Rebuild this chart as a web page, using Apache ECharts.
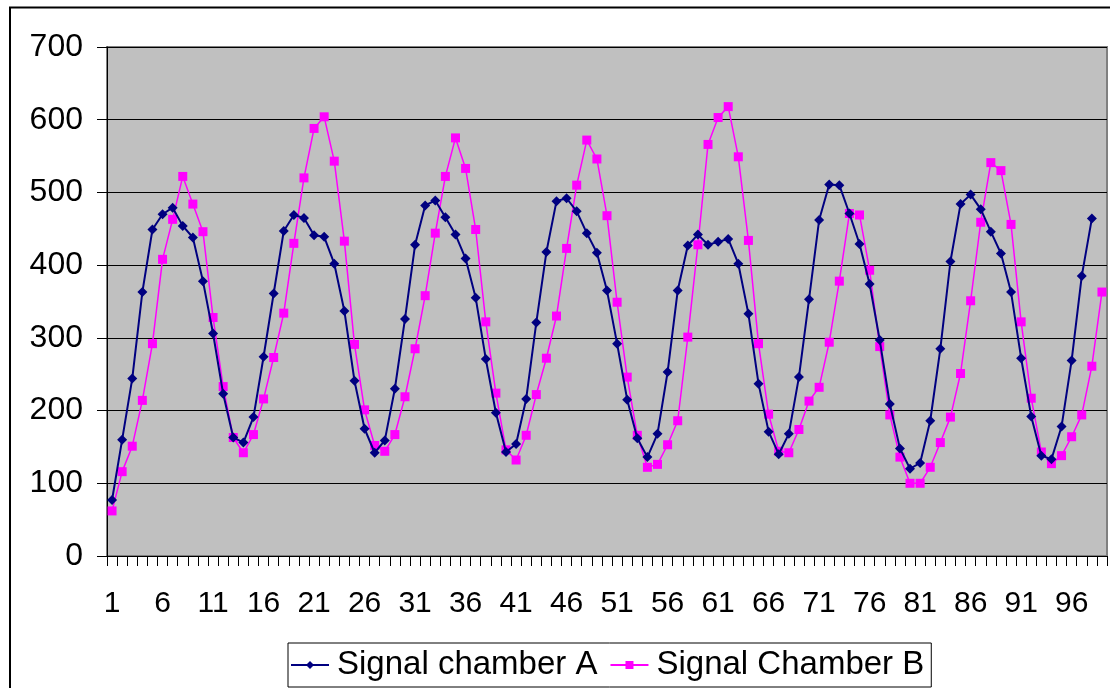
<!DOCTYPE html>
<html>
<head>
<meta charset="utf-8">
<title>Signal chambers</title>
<script src="https://cdn.jsdelivr.net/npm/echarts@6/dist/echarts.min.js"></script>
<style>
  html, body { margin: 0; padding: 0; background: #ffffff; }
  #chart { width: 1110px; height: 688px; }
</style>
</head>
<body>
<div id="chart"></div>
<script>
// Sample numbers 1..99 along the x axis
const categories = Array.from({ length: 99 }, (_, i) => String(i + 1));

// Y axis scale
const yMin = 0;
const yMax = 700;
const yStep = 100;

const seriesNames = ['Signal chamber A', 'Signal Chamber B'];

// Signal chamber A (no reading at sample 99)
const chamberA = [
  77, 160, 244, 363, 449, 470, 479, 454, 438, 378,
  306, 223, 163, 156, 191, 274, 361, 447, 469, 465,
  441, 439, 402, 337, 241, 175, 142, 159, 230, 326,
  428, 482, 489, 466, 442, 409, 355, 271, 197, 143,
  154, 216, 321, 418, 488, 492, 474, 444, 417, 365,
  292, 215, 162, 136, 168, 253, 365, 427, 442, 428,
  432, 436, 402, 333, 237, 171, 140, 168, 246, 353,
  462, 511, 510, 471, 429, 374, 297, 209, 148, 120,
  128, 186, 285, 405, 484, 497, 477, 446, 416, 363,
  272, 192, 138, 133, 178, 269, 385, 464, null
];

// Signal chamber B
const chamberB = [
  62, 116, 151, 214, 292, 408, 463, 522, 484, 446,
  328, 233, 163, 142, 167, 216, 273, 334, 430, 520,
  588, 604, 543, 433, 291, 201, 152, 144, 167, 219,
  285, 358, 444, 522, 575, 533, 449, 322, 224, 146,
  132, 166, 222, 272, 330, 423, 510, 572, 546, 468,
  349, 246, 166, 122, 126, 153, 186, 301, 428, 566,
  603, 618, 549, 434, 292, 195, 144, 142, 174, 213,
  232, 294, 378, 471, 469, 393, 288, 194, 136, 100,
  100, 122, 156, 191, 251, 351, 459, 541, 530, 456,
  322, 217, 143, 127, 138, 164, 194, 261, 363
];

const FONT = '"Liberation Sans", Arial, Helvetica, sans-serif';

const chart = echarts.init(document.getElementById('chart'), null, { renderer: 'canvas' });

chart.setOption({
  animation: false,
  backgroundColor: '#ffffff',
  textStyle: { fontFamily: FONT, color: '#000' },
  graphic: [
    {
      // outer frame of the chart area
      type: 'rect',
      silent: true,
      z: -10,
      shape: { x: 10, y: 7.5, width: 1200, height: 800 },
      style: { fill: 'none', stroke: '#000', lineWidth: 2 }
    }
  ],
  grid: {
    left: 107,
    right: 3,
    top: 47,
    bottom: 132,
    show: true,
    backgroundColor: '#C0C0C0',
    borderColor: '#808080',
    borderWidth: 2
  },
  legend: {
    data: seriesNames,
    left: 288,
    top: 643,
    orient: 'horizontal',
    selectedMode: false,
    itemWidth: 38,
    itemHeight: 10,
    itemGap: 12,
    padding: [4, 7, 4, 2],
    borderColor: '#000',
    borderWidth: 1,
    backgroundColor: '#fff',
    textStyle: {
      fontFamily: FONT,
      fontSize: 33,
      color: '#000',
      lineHeight: 36,
      padding: [0, 0, 0, 3]
    }
  },
  xAxis: {
    type: 'category',
    data: categories,
    boundaryGap: true,
    axisLine: { show: true, lineStyle: { color: '#000', width: 1 } },
    axisTick: { show: true, interval: 0, length: 10, lineStyle: { color: '#000' } },
    axisLabel: {
      interval: 4,
      margin: 33,
      fontFamily: FONT,
      fontSize: 30,
      color: '#000'
    },
    splitLine: { show: false }
  },
  yAxis: {
    type: 'value',
    min: yMin,
    max: yMax,
    interval: yStep,
    axisLine: { show: true, lineStyle: { color: '#000', width: 1 } },
    axisTick: { show: true, length: 10, lineStyle: { color: '#000' } },
    axisLabel: {
      margin: 24,
      fontFamily: FONT,
      fontSize: 32,
      color: '#000'
    },
    splitLine: { show: true, lineStyle: { color: '#000', width: 1 } }
  },
  series: [
    {
      name: seriesNames[0],
      type: 'line',
      data: chamberA,
      symbol: 'diamond',
      symbolSize: 10,
      showAllSymbol: true,
      connectNulls: false,
      color: '#000080',
      lineStyle: { color: '#000080', width: 2 },
      itemStyle: { color: '#000080', borderWidth: 0 },
      z: 3
    },
    {
      name: seriesNames[1],
      type: 'line',
      data: chamberB,
      symbol: 'rect',
      symbolSize: 9,
      showAllSymbol: true,
      color: '#FF00FF',
      lineStyle: { color: '#FF00FF', width: 1.5 },
      itemStyle: { color: '#FF00FF', borderWidth: 0 },
      z: 2
    }
  ]
});
</script>
</body>
</html>
